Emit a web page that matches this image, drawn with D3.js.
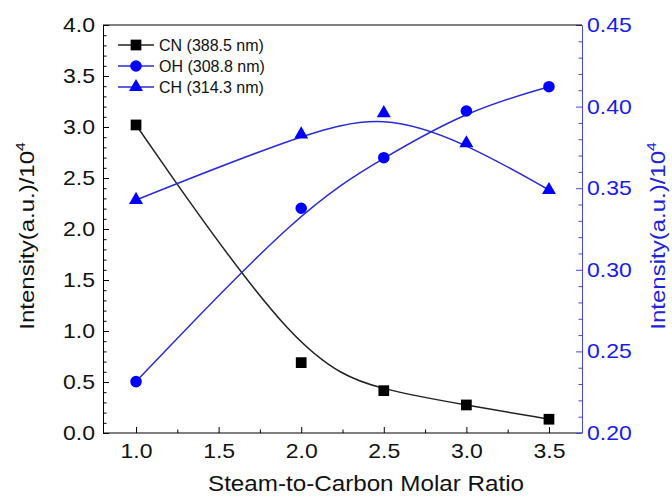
<!DOCTYPE html>
<html><head><meta charset="utf-8">
<script src="https://cdn.jsdelivr.net/npm/d3@7"></script>
<style>body{margin:0;background:#fff;} text{font-family:"Liberation Sans",Arial,sans-serif;}</style>
</head><body><svg id="c" width="672" height="497"></svg>
<script>
const xVals = [1.0, 2.0, 2.5, 3.0, 3.5];
const cnVals = [3.02, 0.69, 0.415, 0.275, 0.135];
const ohVals = [0.2315, 0.3377, 0.3687, 0.3973, 0.4122];
const chVals = [0.3428, 0.3830, 0.3960, 0.3775, 0.3489];
const xTicks = [1.0, 1.5, 2.0, 2.5, 3.0, 3.5];
const xMinor = [1.25, 1.75, 2.25, 2.75, 3.25];
const yLeftTicks = [0.0, 0.5, 1.0, 1.5, 2.0, 2.5, 3.0, 3.5, 4.0];
const yRightTicks = [0.20, 0.25, 0.30, 0.35, 0.40, 0.45];
const legendNames = ["CN (388.5 nm)", "OH (308.8 nm)", "CH (314.3 nm)"];

const svg = d3.select("#c");
const L = 103, R = 582, T = 25, B = 433;
const x = d3.scaleLinear().domain([0.8, 3.7]).range([L, R]);
const yL = d3.scaleLinear().domain([0, 4]).range([B, T]);
const yR = d3.scaleLinear().domain([0.20, 0.45]).range([B, T]);
const blue = "#0000ff", lineBlue = "#2a2ad6", axBlue = "#4646e6";
const K = 1.15;
const FS = 20;

function stretch(sel, k) {
  sel.each(function () {
    const t = d3.select(this);
    const xv = +t.attr("x") || 0;
    t.attr("x", xv / k).attr("transform", (t.attr("transform") || "") + ` scale(${k},1)`);
  });
}

const minorL = d3.range(0, 4.001, 0.1).filter(v => Math.abs(v * 2 - Math.round(v * 2)) > 1e-6);
const minorR = d3.range(0.20, 0.4501, 0.01).filter(v => Math.abs(v * 20 - Math.round(v * 20)) > 1e-6);

const gxm = svg.append("g").attr("transform", `translate(0,${B})`)
  .call(d3.axisBottom(x).tickValues(xMinor).tickSize(-3.5).tickSizeOuter(0).tickFormat(""));
gxm.select(".domain").remove();
const gx = svg.append("g").attr("transform", `translate(0,${B})`)
  .call(d3.axisBottom(x).tickValues(xTicks).tickSize(-6).tickSizeOuter(0).tickPadding(11).tickFormat(d3.format(".1f")));
gx.select(".domain").attr("d", `M${L},0H${R}`);
gx.selectAll("text").attr("font-size", FS).attr("fill", "#111").attr("font-family", "Liberation Sans, Arial, sans-serif");
stretch(gx.selectAll("text"), K);

const gym = svg.append("g").attr("transform", `translate(${L},0)`)
  .call(d3.axisLeft(yL).tickValues(minorL).tickSize(-3.5).tickSizeOuter(0).tickFormat(""));
gym.select(".domain").remove();
const gy = svg.append("g").attr("transform", `translate(${L},0)`)
  .call(d3.axisLeft(yL).tickValues(yLeftTicks).tickSize(-6).tickSizeOuter(0).tickPadding(8).tickFormat(d3.format(".1f")));
gy.selectAll("text").attr("font-size", FS).attr("fill", "#111").attr("font-family", "Liberation Sans, Arial, sans-serif");
stretch(gy.selectAll("text"), K);

const grm = svg.append("g").attr("transform", `translate(${R},0)`)
  .call(d3.axisRight(yR).tickValues(minorR).tickSize(-3.5).tickSizeOuter(0).tickFormat(""));
grm.select(".domain").remove();
grm.selectAll("line").attr("stroke", axBlue);
const gr = svg.append("g").attr("transform", `translate(${R},0)`)
  .call(d3.axisRight(yR).tickValues(yRightTicks).tickSize(-6).tickSizeOuter(0).tickPadding(5).tickFormat(d3.format(".2f")));
gr.select(".domain").attr("stroke", axBlue);
gr.selectAll("line").attr("stroke", axBlue);
gr.selectAll("text").attr("font-size", FS).attr("fill", "#1a1aee").attr("font-family", "Liberation Sans, Arial, sans-serif");
stretch(gr.selectAll("text"), K);

svg.append("line").attr("x1", L).attr("x2", R).attr("y1", T).attr("y2", T).attr("stroke", "#000");

const plot = svg.append("g");
function curve(vals, ys, color) {
  const line = d3.line().x((d, i) => x(xVals[i])).y(d => ys(d)).curve(d3.curveBasis);
  plot.append("path").attr("d", line(vals)).attr("fill", "none").attr("stroke", color).attr("stroke-width", 1.5);
}
curve(cnVals, yL, "#222");
curve(ohVals, yR, lineBlue);
curve(chVals, yR, lineBlue);

const symSq = d3.symbol().type(d3.symbolSquare).size(115);
const symCi = d3.symbol().type(d3.symbolCircle).size(105);
const symTr = d3.symbol().type(d3.symbolTriangle).size(85);
function marks(vals, ys, sym, color) {
  plot.selectAll(null).data(vals).enter().append("path")
    .attr("d", sym()).attr("fill", color)
    .attr("transform", (d, i) => `translate(${x(xVals[i])},${ys(d)})`);
}
marks(cnVals, yL, symSq, "#000");
marks(ohVals, yR, symCi, blue);
marks(chVals, yR, symTr, blue);

const legSyms = [symSq, symCi, symTr];
const legLine = ["#222", lineBlue, lineBlue];
const legFill = ["#000", blue, blue];
const legY = [45, 66, 87];
legendNames.forEach((n, i) => {
  const g = svg.append("g").attr("transform", `translate(0,${legY[i]})`);
  g.append("line").attr("x1", 118).attr("x2", 154).attr("y1", 0).attr("y2", 0).attr("stroke", legLine[i]).attr("stroke-width", 1.5);
  g.append("path").attr("d", legSyms[i]()).attr("fill", legFill[i]).attr("transform", "translate(136,0)");
  g.append("text").attr("x", 159).attr("y", 5.5).attr("font-size", 16).attr("fill", "#111").text(n);
});

svg.append("text").attr("x", 208).attr("y", 491).attr("font-size", 22).attr("fill", "#111")
  .attr("textLength", 316).attr("lengthAdjust", "spacingAndGlyphs").text("Steam-to-Carbon Molar Ratio");

function ytitle(xp, color) {
  const t = svg.append("text").attr("text-anchor", "middle").attr("font-size", 20).attr("fill", color)
    .attr("transform", `translate(${xp},236) rotate(-90) scale(1.2,1)`);
  t.append("tspan").text("Intensity(a.u.)/10");
  t.append("tspan").attr("font-size", 13).attr("dy", -9).text("4");
}
ytitle(34, "#111");
ytitle(665, "#2222dd");
</script></body></html>
